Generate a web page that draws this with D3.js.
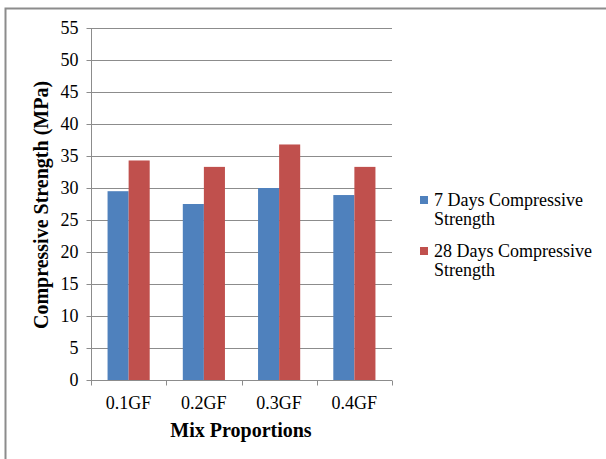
<!DOCTYPE html>
<html>
<head>
<meta charset="utf-8">
<script src="https://cdn.jsdelivr.net/npm/d3@7"></script>
<style>
  body { margin: 0; background: #fff; }
  text { font-family: "Liberation Serif", "Times New Roman", serif; fill: #000; }
</style>
</head>
<body>
<svg id="chart" width="606" height="459"></svg>
<script>
const categories = ['0.1GF', '0.2GF', '0.3GF', '0.4GF'];
const seriesNames = ['7 Days Compressive Strength', '28 Days Compressive Strength'];
const days7 = [29.5, 27.5, 30.0, 28.9];
const days28 = [34.3, 33.3, 36.8, 33.3];
const yTicks = [0, 5, 10, 15, 20, 25, 30, 35, 40, 45, 50, 55];
const colors = ['#4F81BD', '#C0504D'];

const svg = d3.select('#chart');

// outer chart border (left + top only visible)
svg.append('path')
  .attr('d', 'M5.5,459 V8.5 H606')
  .attr('fill', 'none')
  .attr('stroke', '#8c8c8c')
  .attr('stroke-width', 2);

const margin = {left: 91, top: 28, right: 392, bottom: 380};

const x = d3.scaleBand()
  .domain(categories)
  .range([margin.left, margin.right])
  .paddingInner(0.44)
  .paddingOuter(0.22);

const x1 = d3.scaleBand()
  .domain([0, 1])
  .range([0, x.bandwidth()]);

const y = d3.scaleLinear()
  .domain([0, 55])
  .range([margin.bottom, margin.top]);

// gridlines
svg.append('g')
  .selectAll('line')
  .data(yTicks.filter(d => d > 0))
  .enter()
  .append('line')
  .attr('x1', margin.left)
  .attr('x2', margin.right)
  .attr('y1', d => Math.round(y(d)) + 0.5)
  .attr('y2', d => Math.round(y(d)) + 0.5)
  .attr('stroke', '#8c8c8c')
  .attr('stroke-width', 1);

// bars
const groups = svg.append('g')
  .selectAll('g')
  .data(categories)
  .enter()
  .append('g')
  .attr('transform', d => `translate(${x(d)},0)`);

groups.selectAll('rect')
  .data((d, i) => [days7[i], days28[i]])
  .enter()
  .append('rect')
  .attr('x', (d, j) => x1(j))
  .attr('width', x1.bandwidth())
  .attr('y', d => y(d))
  .attr('height', d => y(0) - y(d))
  .attr('fill', (d, j) => colors[j]);

// y axis
const yAxis = svg.append('g')
  .attr('transform', `translate(${margin.left + 0.5},0)`)
  .call(d3.axisLeft(y).tickValues(yTicks).tickSize(5).tickPadding(8));
yAxis.attr('font-family', null);
yAxis.selectAll('text').style('font-size', '18px');
yAxis.selectAll('line, path').attr('stroke', '#8c8c8c');
yAxis.select('path').attr('d', `M0,${margin.top}V${margin.bottom + 0.5}`);

// x axis with ticks between categories
const xAxisG = svg.append('g')
  .attr('transform', `translate(0,${margin.bottom + 0.5})`);
xAxisG.append('line')
  .attr('x1', margin.left)
  .attr('x2', margin.right)
  .attr('stroke', '#8c8c8c');
const tickX = i => Math.round(margin.left + i * (margin.right - margin.left) / categories.length) + 0.5;
xAxisG.selectAll('.tick')
  .data(d3.range(categories.length + 1))
  .enter()
  .append('line')
  .attr('x1', tickX)
  .attr('x2', tickX)
  .attr('y1', 0)
  .attr('y2', 5)
  .attr('stroke', '#8c8c8c');
xAxisG.selectAll('.lbl')
  .data(categories)
  .enter()
  .append('text')
  .attr('x', d => x(d) + x.bandwidth() / 2)
  .attr('y', 28)
  .attr('text-anchor', 'middle')
  .style('font-size', '18px')
  .text(d => d);

// axis titles
svg.append('text')
  .attr('x', 241)
  .attr('y', 437)
  .attr('text-anchor', 'middle')
  .style('font-size', '20px')
  .style('font-weight', 'bold')
  .text('Mix Proportions');

svg.append('text')
  .attr('transform', 'translate(48,205) rotate(-90)')
  .attr('text-anchor', 'middle')
  .style('font-size', '20px')
  .style('font-weight', 'bold')
  .text('Compressive Strength (MPa)');

// legend
const legend = svg.append('g')
  .attr('transform', 'translate(420,0)');
const item = legend.selectAll('g')
  .data(seriesNames)
  .enter()
  .append('g')
  .attr('transform', (d, i) => `translate(0,${200 + i * 51})`);
item.append('rect')
  .attr('x', 0)
  .attr('y', -4)
  .attr('width', 8)
  .attr('height', 8)
  .attr('fill', (d, i) => colors[i]);
item.append('text')
  .attr('x', 14)
  .attr('y', 6)
  .style('font-size', '18px')
  .text(d => d.replace(' Strength', ''));
item.append('text')
  .attr('x', 14)
  .attr('y', 25)
  .style('font-size', '18px')
  .text('Strength');
</script>
</body>
</html>
